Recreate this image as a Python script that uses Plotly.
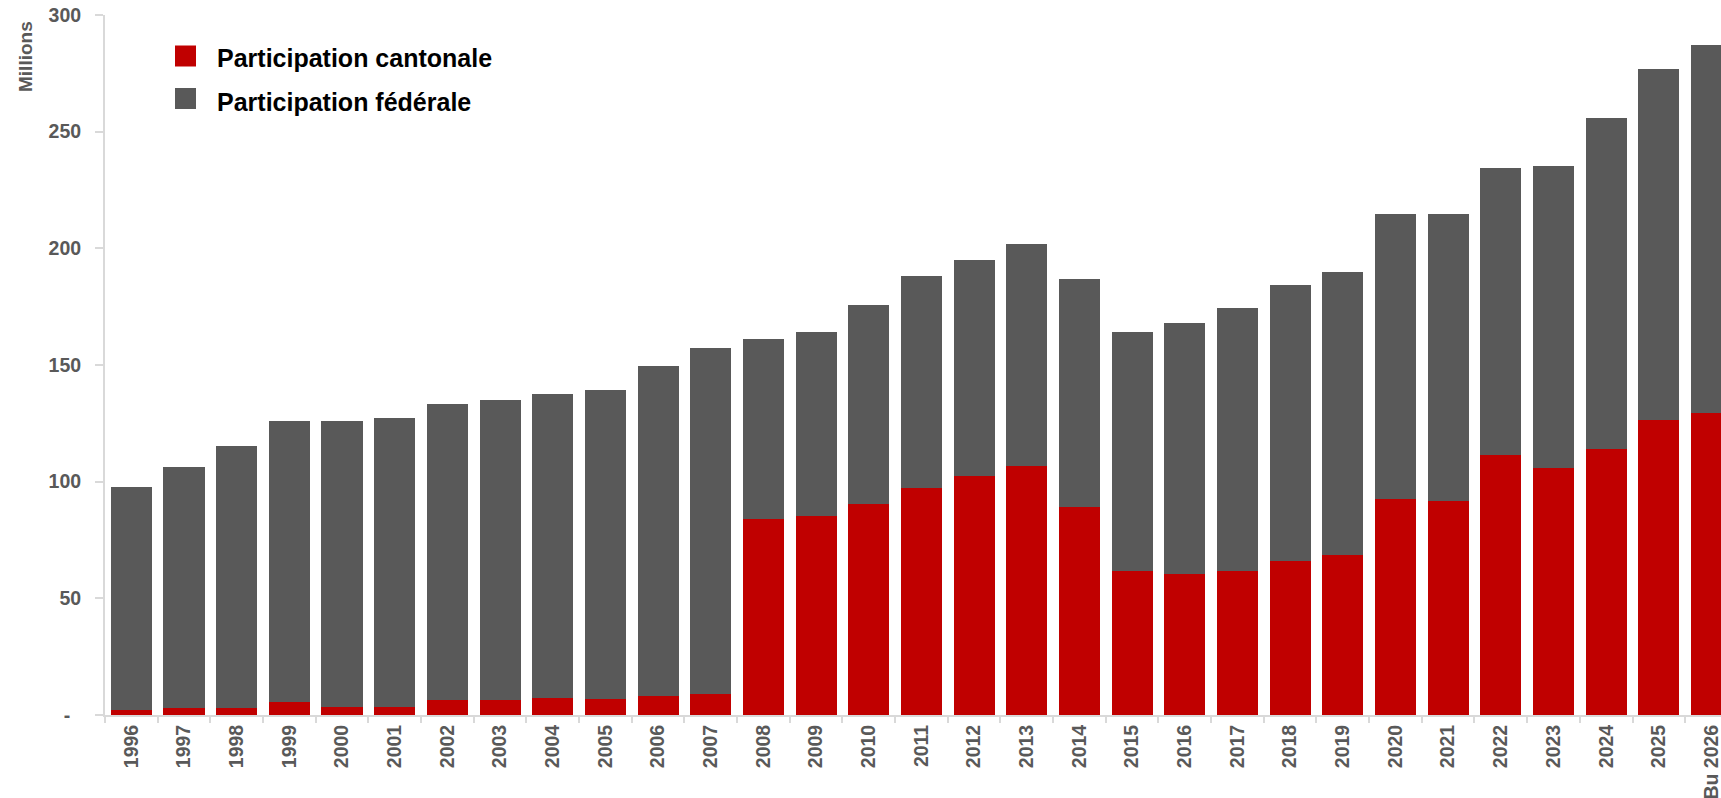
import plotly.graph_objects as go

# Années (la dernière colonne est le budget 2026)
years = ["1996", "1997", "1998", "1999", "2000", "2001", "2002", "2003", "2004", "2005",
         "2006", "2007", "2008", "2009", "2010", "2011", "2012", "2013", "2014", "2015",
         "2016", "2017", "2018", "2019", "2020", "2021", "2022", "2023", "2024", "2025",
         "Bu 2026"]

# Participation cantonale (millions)
cantonale = [2.3, 3.1, 3.1, 5.4, 3.6, 3.6, 6.3, 6.3, 7.3, 6.7,
             8.3, 9.0, 83.9, 85.3, 90.5, 97.3, 102.6, 106.8, 89.2, 61.6,
             60.3, 61.6, 66.0, 68.6, 92.5, 91.9, 111.5, 105.8, 113.8, 126.4,
             129.5]

# Total des participations (millions)
total = [97.6, 106.2, 115.2, 125.9, 125.9, 127.2, 133.1, 134.8, 137.5, 139.2,
         149.5, 157.1, 161.1, 164.1, 175.7, 188.3, 195.0, 201.8, 186.8, 164.1,
         167.8, 174.5, 184.2, 189.7, 214.7, 214.7, 234.3, 235.3, 255.7, 277.0,
         287.3]

# Participation fédérale = total - part cantonale
federale = [round(t - c, 1) for t, c in zip(total, cantonale)]

series_names = ["Participation cantonale", "Participation fédérale"]
series_colors = ["#C00000", "#595959"]

y_ticks = [0, 50, 100, 150, 200, 250, 300]
y_ticktext = ["-\u00a0\u00a0", "50", "100", "150", "200", "250", "300"]

FONT = "Liberation Sans, Arial, sans-serif"
AXIS_GREY = "#D9D9D9"
LABEL_GREY = "#595959"

fig = go.Figure()
for name, vals, col in zip(series_names, [cantonale, federale], series_colors):
    fig.add_trace(go.Bar(
        x=years, y=vals, name=name,
        marker=dict(color=col, line=dict(width=0)),
        showlegend=False,
    ))

fig.update_layout(
    width=1721, height=798,
    margin=dict(l=105, r=0, t=15, b=83),
    barmode="stack",
    bargap=0.22,
    plot_bgcolor="white",
    paper_bgcolor="white",
    font=dict(family=FONT, color=LABEL_GREY),
)

fig.update_xaxes(
    type="category",
    range=[-0.5, 30.18],
    showline=True, linecolor=AXIS_GREY, linewidth=2,
    ticks="outside", ticklen=6, tickcolor=AXIS_GREY, tickwidth=2,
    tickson="boundaries",
    tickangle=-90,
    tickfont=dict(family=FONT, size=19.5, color=LABEL_GREY, weight="bold"),
    showgrid=False,
    automargin=False,
    fixedrange=True,
)

fig.update_yaxes(
    range=[0, 300],
    tickvals=y_ticks, ticktext=y_ticktext,
    showline=True, linecolor=AXIS_GREY, linewidth=2,
    ticks="outside", ticklen=8, tickcolor=AXIS_GREY, tickwidth=2,
    ticklabelstandoff=10,
    tickfont=dict(family=FONT, size=19.5, color=LABEL_GREY, weight="bold"),
    showgrid=False, zeroline=False,
    automargin=False,
    fixedrange=True,
)

# Conversion pixels -> coordonnées « paper » de la zone de tracé
def px_x(px):
    return (px - 105) / 1616

def px_y(py):
    return 1 - (py - 15) / 700

# Titre de l'axe des valeurs
fig.add_annotation(
    text="<b>Millions</b>", xref="paper", yref="paper",
    x=px_x(25), y=px_y(57),
    xanchor="center", yanchor="middle", textangle=-90, showarrow=False,
    font=dict(family=FONT, size=19, color=LABEL_GREY),
)

# Légende
legend_square_cy = [56, 98.5]
legend_text_cy = [57.5, 102]
for name, col, sq_y, tx_y in zip(series_names, series_colors, legend_square_cy, legend_text_cy):
    fig.add_shape(
        type="rect", xref="paper", yref="paper",
        x0=px_x(175), x1=px_x(196), y0=px_y(sq_y - 10.5), y1=px_y(sq_y + 10.5),
        fillcolor=col, line=dict(width=0),
    )
    fig.add_annotation(
        text=f"<b>{name}</b>", xref="paper", yref="paper",
        x=px_x(215), y=px_y(tx_y), xanchor="left", yanchor="middle",
        showarrow=False,
        font=dict(family=FONT, size=25, color="black"),
    )

fig.write_html("out.html")
